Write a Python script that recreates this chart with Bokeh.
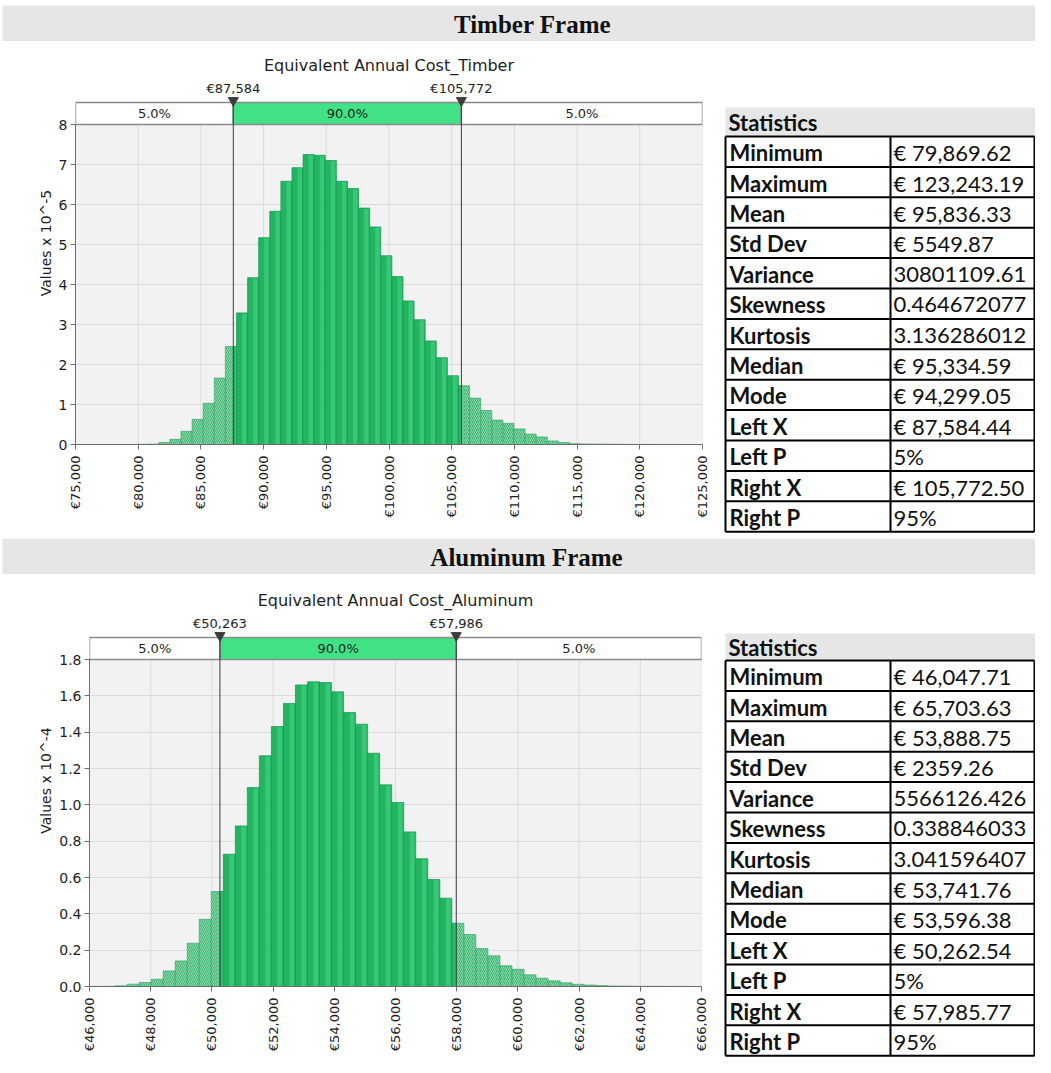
import numpy as np
from bokeh.plotting import figure
from bokeh.layouts import column, row
from bokeh.models import Range1d, FixedTicker
from bokeh.core.properties import value
from bokeh.embed import file_html
from bokeh.resources import INLINE

# ---------------- data ----------------
section_titles = ["Timber Frame", "Aluminum Frame"]
chart_titles = ["Equivalent Annual Cost_Timber", "Equivalent Annual Cost_Aluminum"]
band_labels = ["5.0%", "90.0%", "5.0%"]

timber_min = 79869.62
timber_max = 123243.19
timber_left_x = 87584.44
timber_right_x = 105772.50
timber_marker_labels = ["€87,584", "€105,772"]
# density, Values x 10^-5, one value per bin
timber_density = [0.005, 0.01, 0.05, 0.13, 0.33, 0.63, 1.03, 1.66, 2.45,
                  3.29, 4.17, 5.17, 5.83, 6.58, 6.92, 7.25, 7.23, 7.10, 6.58,
                  6.40, 5.91, 5.44, 4.72, 4.20, 3.59,
                  3.12, 2.59, 2.17, 1.72, 1.47, 1.16, 0.85, 0.61, 0.53, 0.39,
                  0.26, 0.19, 0.09, 0.05, 0.02, 0.015, 0.01, 0.008, 0.005, 0.003,
                  0.002, 0.002, 0.001, 0.001]
timber_x_ticks = [75000, 80000, 85000, 90000, 95000, 100000, 105000, 110000, 115000, 120000, 125000]
timber_x_labels = ["€75,000", "€80,000", "€85,000", "€90,000", "€95,000", "€100,000",
                   "€105,000", "€110,000", "€115,000", "€120,000", "€125,000"]
timber_y_ticks = [0, 1, 2, 3, 4, 5, 6, 7, 8]
timber_y_labels = ["0", "1", "2", "3", "4", "5", "6", "7", "8"]
timber_y_title = "Values x 10^-5"

aluminum_min = 46047.71
aluminum_max = 65703.63
aluminum_left_x = 50262.54
aluminum_right_x = 57985.77
aluminum_marker_labels = ["€50,263", "€57,986"]
# density, Values x 10^-4, one value per bin
aluminum_density = [0.0005, 0.001, 0.004, 0.013, 0.022, 0.040, 0.086, 0.141, 0.238, 0.370, 0.523,
                    0.728, 0.884, 1.095, 1.270, 1.431, 1.558, 1.660, 1.677, 1.673, 1.622,
                    1.508, 1.444, 1.284, 1.110, 1.013, 0.851, 0.703, 0.589, 0.486,
                    0.348, 0.286, 0.209, 0.169, 0.114, 0.095, 0.064, 0.046, 0.031, 0.020,
                    0.012, 0.008, 0.005, 0.003, 0.002, 0.001, 0.001, 0.001, 0.0005, 0.0005]
aluminum_x_ticks = [46000, 48000, 50000, 52000, 54000, 56000, 58000, 60000, 62000, 64000, 66000]
aluminum_x_labels = ["€46,000", "€48,000", "€50,000", "€52,000", "€54,000", "€56,000",
                     "€58,000", "€60,000", "€62,000", "€64,000", "€66,000"]
aluminum_y_ticks = [0.0, 0.2, 0.4, 0.6, 0.8, 1.0, 1.2, 1.4, 1.6, 1.8]
aluminum_y_labels = ["0.0", "0.2", "0.4", "0.6", "0.8", "1.0", "1.2", "1.4", "1.6", "1.8"]
aluminum_y_title = "Values x 10^-4"

stats_header = "Statistics"
stat_names = ["Minimum", "Maximum", "Mean", "Std Dev", "Variance", "Skewness", "Kurtosis",
              "Median", "Mode", "Left X", "Left P", "Right X", "Right P"]
timber_stats = ["€ 79,869.62", "€ 123,243.19", "€ 95,836.33", "€ 5549.87", "30801109.61",
                "0.464672077", "3.136286012", "€ 95,334.59", "€ 94,299.05", "€ 87,584.44",
                "5%", "€ 105,772.50", "95%"]
aluminum_stats = ["€ 46,047.71", "€ 65,703.63", "€ 53,888.75", "€ 2359.26", "5566126.426",
                  "0.338846033", "3.041596407", "€ 53,741.76", "€  53,596.38", "€ 50,262.54",
                  "5%", "€ 57,985.77", "95%"]

# ---------------- style ----------------
FONT = "DejaVu Sans"
TFONT = "Lato"
HFONT = "Liberation Serif"
BAND_GREEN = "#41e286"
BAR_FILL = "#22b461"
BAR_LINE = "#179650"
BAR_LIGHT = "#52de92"
HATCH_FILL = "#3db671"
MARK = "#3c3c3c"
TXT = "#1e1e1e"
GRID = "#dcdcdc"
PAGE_W = 1035
CHART_W = 712
TABLE_W = PAGE_W - CHART_W


def base_fig(**kw):
    f = figure(output_backend="svg", toolbar_location=None, **kw)
    f.outline_line_color = None
    return f


def header_fig(text, y0, y1, grey_top, text_x):
    h = base_fig(width=PAGE_W, height=y1 - y0, x_range=Range1d(8, 8 + PAGE_W),
                 y_range=Range1d(y1, y0), x_axis_type=None, y_axis_type=None,
                 min_border_left=0, min_border_right=0, min_border_top=0, min_border_bottom=0)
    h.grid.visible = False
    h.quad(left=10, right=8 + PAGE_W, bottom=y1, top=grey_top, fill_color="#e6e6e6", line_color=None)
    h.text(x=[text_x], y=[(grey_top + y1) / 2 + 1], text=[text], text_font=value(HFONT),
           text_font_style="bold", text_font_size="25px", text_align="center",
           text_baseline="middle", text_color="#111111")
    return h


def split_bins(lo, hi, density, left_x, right_x):
    edges = np.linspace(lo, hi, len(density) + 1)
    parts = {"lt": ([], [], []), "mid": ([], [], []), "rt": ([], [], [])}
    for i, d in enumerate(density):
        a, b = edges[i], edges[i + 1]
        if a < left_x:
            for lst, v in zip(parts["lt"], (a, min(b, left_x), d)):
                lst.append(v)
        if b > left_x and a < right_x:
            for lst, v in zip(parts["mid"], (max(a, left_x), min(b, right_x), d)):
                lst.append(v)
        if b > right_x:
            for lst, v in zip(parts["rt"], (max(a, right_x), b, d)):
                lst.append(v)
    return parts


def chart(title, lo, hi, density, left_x, right_x, marker_labels, x_ticks, x_labels,
          y_ticks, y_labels, y_title, band_h, plot_h, bottom_h, ml, mr):
    x0, x1 = x_ticks[0], x_ticks[-1]
    ymax = y_ticks[-1]
    u = ymax / plot_h  # data units per pixel
    p = base_fig(width=CHART_W, height=band_h + plot_h + bottom_h,
                 x_range=Range1d(x0, x1), y_range=Range1d(0, ymax + band_h * u),
                 min_border_left=ml, min_border_right=mr, min_border_top=0,
                 min_border_bottom=bottom_h)
    p.background_fill_color = "white"
    p.border_fill_color = "white"
    # plot area background and vertical grid lines (only inside the plot area)
    p.quad(left=x0, right=x1, bottom=0, top=ymax, fill_color="#f2f2f2", line_color=None, level="image")
    p.segment(x0=x_ticks, y0=[0] * len(x_ticks), x1=x_ticks, y1=[ymax] * len(x_ticks),
              line_color=GRID, line_width=1, level="underlay")

    # ---- histogram bars ----
    parts = split_bins(lo, hi, density, left_x, right_x)
    l, r, t = parts["mid"]
    p.quad(left=l, right=r, bottom=0, top=t, fill_color=BAR_FILL, line_color=BAR_LINE, line_width=0.7)
    p.quad(left=[a + 0.5 * (c - a) for a, c in zip(l, r)], right=[c - 0.1 * (c - a) for a, c in zip(l, r)],
           bottom=0, top=[v - 0.6 * u for v in t], fill_color=BAR_LIGHT, fill_alpha=0.45, line_color=None)
    for key, pat in (("lt", "left_diagonal_line"), ("rt", "right_diagonal_line")):
        l, r, t = parts[key]
        p.quad(left=l, right=r, bottom=0, top=t, fill_color=HATCH_FILL, line_color="#34a264",
               line_width=0.6, hatch_pattern=pat, hatch_color="white", hatch_alpha=0.45,
               hatch_scale=4, hatch_weight=1)

    # ---- percentile band above the plot ----
    box_b, box_t = ymax, ymax + 22 * u
    seg = [x0, left_x, right_x, x1]
    p.quad(left=seg[:-1], right=seg[1:], bottom=box_b, top=box_t,
           fill_color=["white", BAND_GREEN, "white"], line_color="#8a8a8a", line_width=1.5)
    p.segment(x0=[left_x, right_x], y0=[0, 0], x1=[left_x, right_x], y1=[box_t, box_t],
              line_color=MARK, line_width=1)
    p.text(x=[(seg[i] + seg[i + 1]) / 2 for i in range(3)], y=[(box_b + box_t) / 2] * 3, text=band_labels,
           text_font=value(FONT), text_font_size="13px", text_align="center",
           text_baseline="middle", text_color=TXT)
    p.scatter(x=[left_x, right_x], y=[box_t + 2 * u] * 2, marker="inverted_triangle",
              size=10, fill_color=MARK, line_color=MARK)
    p.text(x=[left_x, right_x], y=[box_t + 14 * u] * 2, text=marker_labels,
           text_font=value(FONT), text_font_size="13px", text_align="center",
           text_baseline="middle", text_color=TXT)
    p.text(x=[(x0 + x1) / 2], y=[box_t + 37 * u], text=[title], text_font=value(FONT),
           text_font_size="16px", text_align="center", text_baseline="middle", text_color=TXT)

    # ---- axes & grid ----
    p.xaxis.ticker = FixedTicker(ticks=x_ticks)
    p.xaxis.major_label_overrides = {k: v for k, v in zip(x_ticks, x_labels)}
    p.xaxis.major_label_orientation = np.pi / 2
    p.yaxis.ticker = FixedTicker(ticks=y_ticks)
    p.yaxis.major_label_overrides = {k: v for k, v in zip(y_ticks, y_labels)}
    p.yaxis.bounds = (0, ymax)
    p.yaxis.axis_label = y_title
    p.yaxis.axis_label_text_font_style = "normal"
    p.yaxis.axis_label_text_font = FONT
    p.yaxis.axis_label_text_font_size = "14px"
    p.yaxis.axis_label_text_color = TXT
    p.yaxis.axis_label_standoff = 2
    for ax in (p.xaxis, p.yaxis):
        ax.major_label_text_font = FONT
        ax.major_label_text_color = TXT
        ax.minor_tick_line_color = None
        ax.major_tick_in = 0
        ax.major_tick_out = 5
        ax.axis_line_color = "#6e6e6e"
        ax.major_tick_line_color = "#6e6e6e"
    p.xaxis.major_label_text_font_size = "13px"
    p.yaxis.major_label_text_font_size = "14px"
    p.xaxis.major_label_standoff = 6
    p.yaxis.major_label_standoff = 3
    p.xgrid.visible = False
    p.ygrid.ticker = FixedTicker(ticks=y_ticks)
    p.ygrid.grid_line_color = GRID
    p.ygrid.grid_line_width = 1
    return column(p, spacing=0)


def table(y0, y1, head_top, head_bot, row_top, row_h, values):
    t = base_fig(width=TABLE_W, height=y1 - y0, x_range=Range1d(CHART_W + 8, 8 + PAGE_W),
                 y_range=Range1d(y1, y0), x_axis_type=None, y_axis_type=None,
                 min_border_left=0, min_border_right=0, min_border_top=0, min_border_bottom=0)
    t.grid.visible = False
    xl, xm, xr_ = 733, 898, 1042
    t.quad(left=xl, right=8 + PAGE_W, top=head_top, bottom=head_bot, fill_color="#e6e6e6", line_color=None)
    t.text(x=[xl + 3], y=[(head_top + head_bot) / 2 + 1], text=[stats_header], text_font=value(TFONT),
           text_font_style="bold", text_font_size="22px", text_baseline="middle", text_color="#111111")
    n = len(stat_names)
    ys = [row_top + i * row_h for i in range(n + 1)]
    t.segment(x0=[xl] * (n + 1), y0=ys, x1=[xr_] * (n + 1), y1=ys, line_color="black", line_width=2)
    t.segment(x0=[xl, xm, xr_], y0=[ys[0]] * 3, x1=[xl, xm, xr_], y1=[ys[-1]] * 3,
              line_color="black", line_width=2)
    centers = [row_top + (i + 0.5) * row_h + 1 for i in range(n)]
    t.text(x=[xl + 4] * n, y=centers, text=stat_names, text_font=value(TFONT), text_font_style="bold",
           text_font_size="22px", text_baseline="middle", text_color="#111111")
    t.text(x=[xm + 3] * n, y=centers, text=values, text_font=value(TFONT),
           text_font_size="22px", text_baseline="middle", text_color="#111111")
    return column(t, spacing=0)


hdr1 = header_fig(section_titles[0], 8, 49, 13, 540)
c1 = chart(chart_titles[0], timber_min, timber_max, timber_density, timber_left_x, timber_right_x,
           timber_marker_labels, timber_x_ticks, timber_x_labels, timber_y_ticks, timber_y_labels,
           timber_y_title, band_h=83, plot_h=320, bottom_h=94, ml=75, mr=10)
t1 = table(49, 546, 115, 143, 144, 30.4, timber_stats)

hdr2 = header_fig(section_titles[1], 546, 582, 546, 534)
c2 = chart(chart_titles[1], aluminum_min, aluminum_max, aluminum_density, aluminum_left_x,
           aluminum_right_x, aluminum_marker_labels, aluminum_x_ticks, aluminum_x_labels,
           aluminum_y_ticks, aluminum_y_labels, aluminum_y_title, band_h=85, plot_h=327,
           bottom_h=71, ml=89, mr=11)
t2 = table(582, 1065, 641, 667, 668, 30.4, aluminum_stats)

page = column(hdr1, row(c1, t1, spacing=0), hdr2, row(c2, t2, spacing=0), spacing=0)
open("out.html", "w").write(file_html(page, INLINE))
